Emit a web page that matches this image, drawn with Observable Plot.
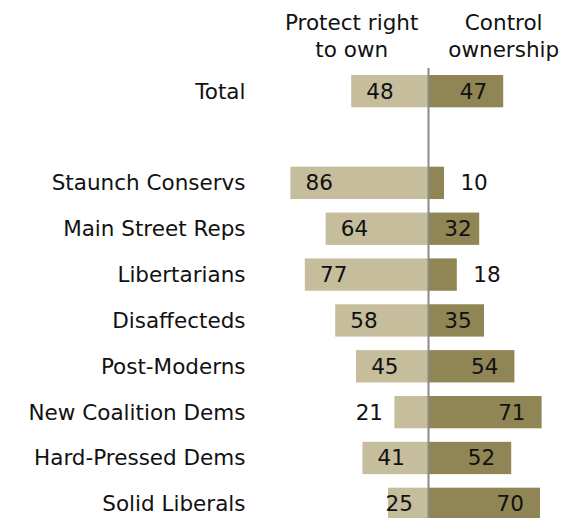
<!DOCTYPE html>
<html><head><meta charset="utf-8">
<script src="https://cdn.jsdelivr.net/npm/d3@7"></script>
<script src="https://cdn.jsdelivr.net/npm/@observablehq/plot@0.6"></script>
<style>html,body{margin:0;padding:0;overflow:hidden;background:#fff}</style>
</head><body><div id="chart"></div>
<script>
const groups = ["Total", "Staunch Conservs", "Main Street Reps", "Libertarians", "Disaffecteds", "Post-Moderns", "New Coalition Dems", "Hard-Pressed Dems", "Solid Liberals"];
const protect = [48, 86, 64, 77, 58, 45, 21, 41, 25];
const control = [47, 10, 32, 18, 35, 54, 71, 52, 70];
const headers = ["Protect right\nto own", "Control\nownership"];

const rows = groups.map((g, i) => ({group: g, protect: protect[i], control: control[i]}));
const yDomain = [groups[0], "", ...groups.slice(1)];
const fs = 21.5;

const chart = Plot.plot({
  width: 566, height: 520,
  marginTop: 75, marginBottom: 0, marginLeft: 268, marginRight: 0,
  style: {fontFamily: "'DejaVu Sans', Verdana, sans-serif", fontSize: fs + "px", color: "#111", background: "#fff"},
  x: {domain: [-100, 86.25], axis: null},
  y: {domain: yDomain, padding: 0.295, paddingOuter: 0, round: false, axis: null},
  marks: [
    Plot.barX(rows, {y: "group", x1: d => -d.protect, x2: 0, fill: "#c5bd9b"}),
    Plot.barX(rows, {y: "group", x1: 0, x2: "control", fill: "#8f8555"}),
    Plot.ruleX([0], {stroke: "#8a8a8a", strokeWidth: 2, insetTop: -7}),
    Plot.text(rows, {y: "group", x: d => d.protect < 23 ? -d.protect - 16 : Math.min(-d.protect + 17.7, -18.3), text: d => String(d.protect), fontSize: fs, fill: "#111"}),
    Plot.text(rows, {y: "group", x: d => d.control < 23 ? d.control + 18.5 : Math.max(d.control - 18.9, 18.4), text: d => String(d.control), fontSize: fs, fill: "#111"}),
    Plot.text(headers, {x: [-48, 47], text: d => d, frameAnchor: "top", lineAnchor: "bottom", dy: -18.3, lineHeight: 1.25, fontSize: fs, fill: "#111"}),
    Plot.axisY({tickSize: 0, tickPadding: 23, label: null, fontSize: fs, fill: "#111"})
  ]
});
document.getElementById("chart").appendChild(chart);
</script>
</body></html>
